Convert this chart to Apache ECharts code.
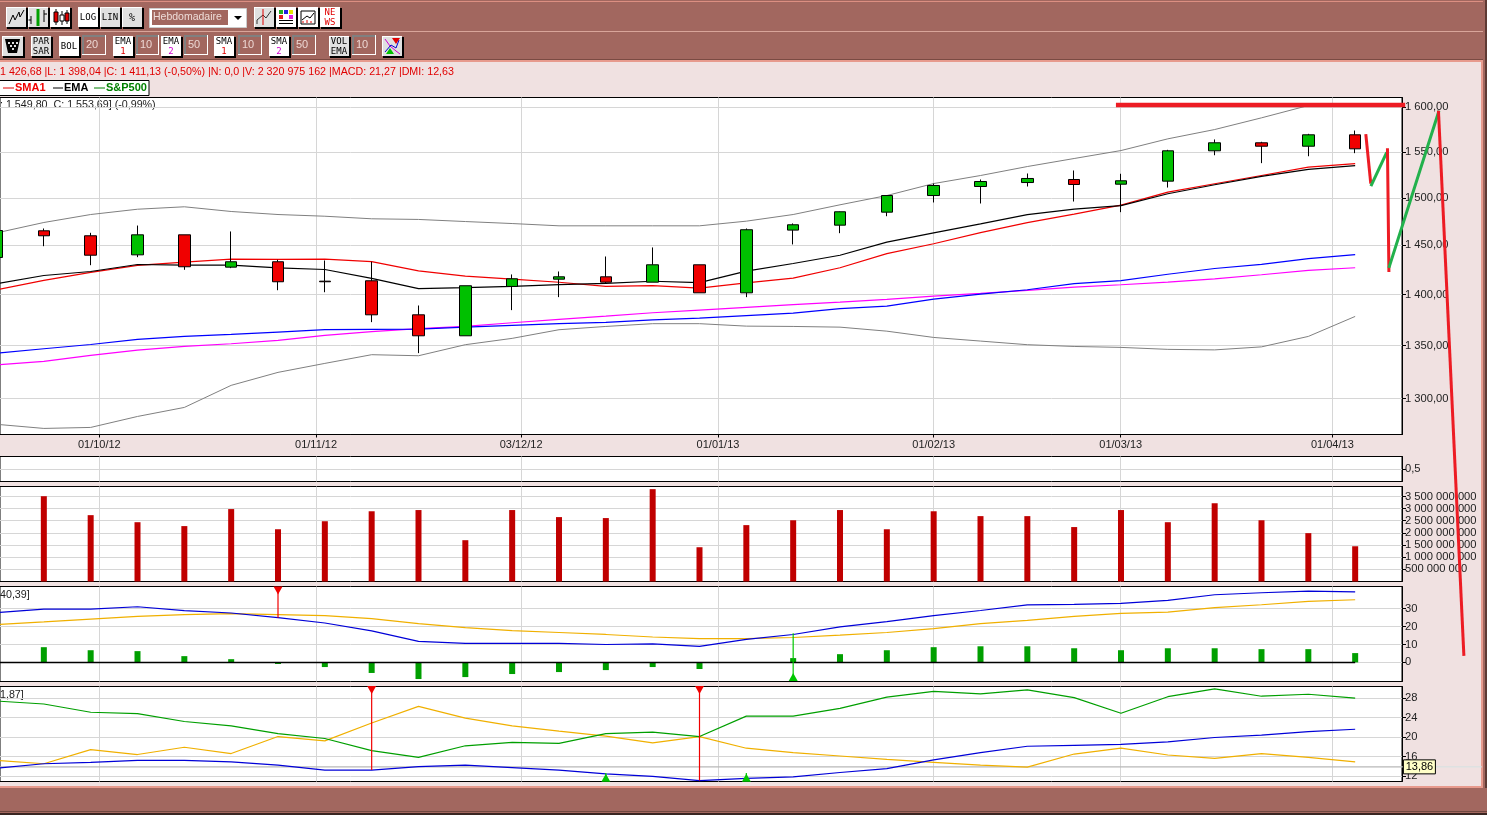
<!DOCTYPE html>
<html>
<head>
<meta charset="utf-8">
<style>html,body{margin:0;padding:0;background:#f0e1e1;overflow:hidden}#c{width:1487px;height:815px}</style>
<script src="https://cdn.jsdelivr.net/npm/echarts@6/dist/echarts.min.js"></script>
</head>
<body>
<div id="c"></div>
<script>
// ---- x axis tick labels and the fractional week position of each
const dateLabels = ['01/10/12','01/11/12','03/12/12','01/01/13','01/02/13','01/03/13','01/04/13'];
const dateTicks = [2.185,6.813,11.191,15.395,20,23.994,28.513];
// ---- weekly candles
const opens  = [1437.5,1465.1,1459.9,1440.2,1460.9,1427.6,1433.1,1413.4,1413.8,1379.9,1359.4,1408.1,1415.4,1417.8,1412.4,1430,1401.7,1465.8,1471,1484.7,1502.4,1512.1,1516.4,1519.7,1514.6,1517.9,1551.1,1560,1556.2,1568.9];
const closes = [1465.4,1459.9,1439.8,1460.9,1428,1433.1,1412.8,1412.8,1379.9,1359.4,1408.8,1415.8,1417.8,1412.4,1430,1401.7,1466.2,1471.4,1485.1,1502.4,1513.2,1517.5,1520.8,1514.3,1518.3,1551.1,1560,1556.2,1568.9,1553.3];
const lows   = [1437.5,1449.1,1429.6,1437.8,1424.9,1426.6,1404.3,1402.3,1372.7,1342.7,1359.4,1384.5,1397.4,1410.8,1412.4,1401.7,1397.4,1450.9,1462.6,1480.4,1495,1493.9,1512.1,1496,1484.7,1511,1546.2,1537.5,1545.1,1548.5];
const highs  = [1465.4,1467.5,1463,1470.6,1460.9,1464.4,1435.1,1434.4,1433.1,1389.1,1408.8,1420.2,1423.2,1438.5,1447.8,1430,1467.5,1472.8,1485.4,1502.4,1515.3,1519.7,1526.2,1529.5,1525.9,1552.2,1563.7,1561.1,1570,1573.7];
// ---- moving averages and Bollinger bands
const sma1 = [1404.8,1414.2,1422.3,1429.4,1432.7,1435.8,1435.5,1435.8,1433.2,1423.8,1418.4,1415.4,1412.3,1408.2,1409,1406.5,1411.6,1416.4,1427,1441.5,1451.6,1463.2,1473.6,1482.6,1492.2,1506,1515.1,1524,1533.1,1536.9];
const ema1 = [1410.9,1419.1,1423.2,1430.3,1429.6,1429.6,1426.9,1425.2,1416.2,1405.9,1406.9,1408.2,1409.9,1411.2,1413.3,1412,1423.5,1431.3,1439.8,1453.3,1462.9,1472.3,1482,1488,1491.6,1504.3,1514,1523,1530.7,1534.8];
const ema2 = [1342.7,1346.9,1351,1355.9,1358.8,1360.7,1363,1365.3,1365.6,1365.9,1367.8,1369.5,1371.2,1372.4,1375,1376.6,1379,1381.6,1385.9,1388.5,1395.4,1400.4,1404.8,1410.9,1414,1420.4,1426.2,1430.4,1436.3,1440.4];
const sma2 = [1331.5,1334.8,1340.6,1345.6,1349.1,1351.7,1354.9,1359.8,1363.4,1366.3,1368.5,1372.1,1375.4,1378.6,1381.9,1384.5,1387.2,1389.9,1392.4,1395.1,1398.4,1401.1,1404.1,1407.4,1409.8,1412.4,1415.8,1419.9,1424.3,1427];
const bollUp = [1463,1473.8,1482.2,1487.8,1490.4,1485.4,1482.2,1480.4,1477.7,1477,1474.8,1472.7,1470.3,1470.3,1470.3,1470.3,1475.2,1482.2,1492.5,1502.4,1515.3,1524,1533.8,1542.6,1551.4,1564.4,1574.8,1588,1602,1603.2];
const bollLow = [1276.2,1272.5,1273.4,1283.4,1291.7,1312.2,1324.4,1332.9,1341.2,1340.2,1350.8,1356.9,1365.3,1368.5,1371.2,1371.2,1368.8,1368.5,1367.8,1363.9,1357.8,1354.3,1350.8,1349.1,1348.2,1346.3,1345.8,1348.7,1358.8,1378.3];
// ---- hand-drawn annotations, in week position and price
const annoBar = [[23.94,1602.6],[30.02,1602.6]];
const annoRedA = [[29.23,1568.1],[29.33,1516.8]];
const annoGreenA = [[29.35,1514],[29.66,1547.8]];
const annoRedB = [[29.69,1552.2],[29.72,1424.2]];
const annoGreenB = [[29.73,1428.3],[30.78,1594.4]];
const annoRedC = [[30.78,1594.4],[31.32,1083.1]];
// ---- volume
const volumes = [2.4e9,3.51e9,2.73e9,2.44e9,2.28e9,2.98e9,2.15e9,2.48e9,2.89e9,2.94e9,1.7e9,2.94e9,2.65e9,2.61e9,3.8e9,1.41e9,2.32e9,2.52e9,2.94e9,2.15e9,2.89e9,2.69e9,2.69e9,2.24e9,2.94e9,2.44e9,3.22e9,2.52e9,1.99e9,1.45e9];
// ---- MACD
const macdLine = [27.8,29.8,29.8,31.1,28.9,27.6,25,22,17.6,11.7,10.6,10.6,10.6,10,10.3,8.9,12.9,15.6,19.8,22.8,26.1,29,32.1,32.4,33,34.6,37.8,38.9,39.8,39.4];
const macdSignal = [21.1,22.6,24.2,25.7,26.7,27.2,26.7,26.1,24.4,21.7,19.4,17.8,16.7,15.6,14.2,13.3,13.3,13.9,15.2,16.7,18.9,21.7,23.5,25.7,27.4,28.1,30.6,32.2,34.1,35];
const macdHist = [8,8.5,6.8,6.3,3.5,1.8,-0.9,-2.6,-5.9,-9.3,-8.2,-6.5,-5.4,-4.3,-2.6,-3.7,0,2.4,4.6,6.8,8.5,9,9,7.9,6.8,7.9,7.9,7.4,7.4,5.2];
// ---- DMI
const dmiPlus = [27.4,26.8,25.1,24.8,23.2,22.3,20.7,19.7,17.2,15.8,18.2,18.9,18.7,20.7,21,20.1,24.3,24.3,25.9,28.2,29.4,28.9,29.7,28.1,24.9,28.3,29.9,28.4,28.8,28];
const dmiMinus = [15.2,14.5,17.4,16.4,17.9,16.6,20.1,19.2,22.9,26.3,23.9,22.3,21.2,20.2,18.8,20.1,17.7,16.8,16.1,15.4,14.8,14.2,13.8,16.5,17.7,16.3,15.6,16.6,15.8,14.9];
const adx = [13.6,14.5,14.8,15.2,15.2,14.9,14.2,13.2,13.2,13.9,14.2,13.7,13.2,12.4,11.9,11.05,11.5,11.8,12.7,13.5,15.3,16.8,18.1,18.3,18.5,19,19.9,20.4,21.1,21.6];
const cursorValue = 13.86;
// ---- trade signals: [week, marker value, line end value]
const macdSell = [[6,40.2,25]];
const macdBuy = [[17,-8.2,16.3]];
const dmiSell = [[8,29.7,13.2],[15,29.7,11.05]];
const dmiBuy = [[13,11.6,12.6],[16,11.6,12.6]];
// ---- axis ticks
const priceTicks = [1300,1350,1400,1450,1500,1550,1600];
const emptyTicks = [0.5];
const volumeTicks = [5e8,1e9,1.5e9,2e9,2.5e9,3e9,3.5e9];
const macdTicks = [0,10,20,30];
const dmiTicks = [12,16,20,24,28];

const weeks = opens.map((_, i) => i);
const pairs = arr => arr.map((v, i) => [weeks[i], v]);
const FONT = '"Liberation Sans", Arial, sans-serif';
const MONO = '"DejaVu Sans Mono", monospace';
const GRID_LINE = '#d6d6d6';

function spaced(n, dec) {
  const s = dec ? n.toFixed(dec) : String(Math.round(n));
  const p = s.split('.');
  p[0] = p[0].replace(/\B(?=(\d{3})+$)/g, ' ');
  return p.join(',');
}
const xRange = {min: 0.064, max: 30};

function makeX(i, withLabels) {
  return {
    type: 'value', gridIndex: i, min: xRange.min, max: xRange.max,
    axisLine: {show: withLabels, lineStyle: {color: '#000'}},
    axisTick: {show: withLabels, length: 3, customValues: dateTicks, lineStyle: {color: '#000'}},
    axisLabel: {
      show: withLabels, customValues: dateTicks, margin: 5, color: '#222', fontFamily: FONT, fontSize: 11,
      formatter: v => { const k = dateTicks.findIndex(t => Math.abs(t - v) < 1e-6); return k < 0 ? '' : dateLabels[k]; }
    },
    splitLine: {show: true, lineStyle: {color: GRID_LINE, width: 1}}
  };
}
function makeY(i, min, max, ticks, fmt, type) {
  const o = {
    type: type || 'value', gridIndex: i, position: 'right', min, max, scale: false,
    axisLine: {show: true, lineStyle: {color: '#000'}},
    axisTick: {show: true, length: 4, customValues: ticks, lineStyle: {color: '#000'}},
    axisLabel: {customValues: ticks, margin: 3, color: '#222', fontFamily: FONT, fontSize: 11.2, formatter: fmt},
    splitLine: {show: true, lineStyle: {color: GRID_LINE, width: 1}}
  };
  if (type === 'log') o.logBase = 10;
  return o;
}
const frame = {show: true, backgroundColor: '#fff', borderColor: '#000', borderWidth: 1, left: -1, width: 1403};

function lineS(name, data, color, ax, extra) {
  return Object.assign({
    name, type: 'line', data, xAxisIndex: ax, yAxisIndex: ax, symbol: 'none', silent: true, z: 3,
    lineStyle: {color, width: 1.2}, itemStyle: {color}
  }, extra || {});
}
// custom series are not clipped by the grid, so these strokes can leave the plot as they do in the picture
function annot(name, data, color, width, ax) {
  return {
    name, type: 'custom', data, xAxisIndex: ax || 0, yAxisIndex: ax || 0, silent: true, z: 20,
    encode: {x: 0, y: 1},
    renderItem: (params, api) => params.dataIndex !== 0 ? null : {
      type: 'polyline',
      shape: {points: data.map(d => api.coord(d))},
      style: {stroke: color, lineWidth: width || 3, fill: null, lineCap: 'square'}
    }
  };
}
function signalS(name, triple, color, rotate, ax) {
  return lineS(name, [
    {value: [triple[0], triple[1]], symbol: 'triangle', symbolSize: [9, 8], symbolRotate: rotate},
    {value: [triple[0], triple[2]], symbol: 'none'}
  ], color, ax, {showSymbol: true, showAllSymbol: true, z: 9, lineStyle: {color, width: 1.2}});
}

const series = [
  lineS('Bollinger haut', pairs(bollUp), '#808080', 0, {lineStyle: {color: '#808080', width: 1}}),
  lineS('Bollinger bas', pairs(bollLow), '#808080', 0, {lineStyle: {color: '#808080', width: 1}}),
  lineS('SMA2', pairs(sma2), '#ff00ff', 0),
  lineS('EMA2', pairs(ema2), '#0000ff', 0),
  lineS('SMA1', pairs(sma1), '#f00000', 0),
  lineS('EMA', pairs(ema1), '#000000', 0),
  {
    name: 'S&P500', type: 'candlestick', xAxisIndex: 0, yAxisIndex: 0, barWidth: 12, z: 5, silent: true,
    data: weeks.map(i => [i, opens[i], closes[i], lows[i], highs[i]]),
    itemStyle: {color: '#00c000', color0: '#f00000', borderColor: '#000', borderColor0: '#000', borderWidth: 1}
  },
  annot('trait', annoBar, '#ed1c24', 4.5),
  annot('rouge A', annoRedA, '#ed1c24'),
  annot('vert A', annoGreenA, '#22b14c'),
  annot('rouge B', annoRedB, '#ed1c24'),
  annot('vert B', annoGreenB, '#22b14c'),
  annot('rouge C', annoRedC, '#ed1c24'),
  {name: 'Volume', type: 'bar', xAxisIndex: 2, yAxisIndex: 2, barWidth: 6, silent: true, data: pairs(volumes), itemStyle: {color: '#c00000'}},
  {name: 'MACD histo', type: 'bar', xAxisIndex: 3, yAxisIndex: 3, barWidth: 6, silent: true, data: pairs(macdHist), itemStyle: {color: '#009f00'}},
  lineS('zero', [[xRange.min, 0], [weeks[weeks.length - 1], 0]], '#000', 3, {lineStyle: {color: '#000', width: 1.5}, z: 4}),
  lineS('MACD signal', pairs(macdSignal), '#f0b000', 3),
  lineS('MACD', pairs(macdLine), '#0000d8', 3),
  lineS('curseur', [[xRange.min, cursorValue], [xRange.max, cursorValue]], '#b8b8b8', 4),
  annot('curseur ext', [[xRange.max, cursorValue], [31.7, cursorValue]], '#d4e2e2', 1, 4),
  lineS('DI-', pairs(dmiMinus), '#f0b000', 4),
  lineS('DI+', pairs(dmiPlus), '#009f00', 4),
  lineS('ADX', pairs(adx), '#0000d8', 4),
  {
    name: 'valeur', type: 'custom', xAxisIndex: 4, yAxisIndex: 4, silent: true, z: 30,
    data: [[xRange.max + 0.03, cursorValue]], encode: {x: 0, y: 1},
    renderItem: (params, api) => {
      const p = api.coord([api.value(0), api.value(1)]);
      return {type: 'group', children: [
        {type: 'rect', shape: {x: p[0], y: p[1] - 7, width: 32, height: 14}, style: {fill: '#ffffc8', stroke: '#000', lineWidth: 1}},
        {type: 'text', x: p[0] + 16, y: p[1], style: {text: spaced(api.value(1), 2), fill: '#000', font: '11px ' + FONT, textAlign: 'center', textVerticalAlign: 'middle'}}
      ]};
    }
  }
];
macdSell.forEach((s, k) => series.push(signalS('vente ' + k, s, '#f00000', 180, 3)));
macdBuy.forEach((s, k) => series.push(signalS('achat ' + k, s, '#00c800', 0, 3)));
dmiSell.forEach((s, k) => series.push(signalS('vente DMI ' + k, s, '#f00000', 180, 4)));
dmiBuy.forEach((s, k) => series.push(signalS('achat DMI ' + k, s, '#00c800', 0, 4)));

// ---- window chrome and toolbar, as decoration
const BROWN = '#a2675f', HI = '#dc8f82', DARK = '#5e3a34', PINK_EDGE = '#e79a8d';
const g = [];
const R = (x, y, w, h, fill, stroke) => g.push({type: 'rect', silent: true, shape: {x, y, width: w, height: h}, style: {fill, stroke: stroke || null, lineWidth: 1}});
const T = (x, y, text, fill, font, align) => g.push({type: 'text', silent: true, x, y, style: {text, fill, font, textAlign: align || 'left', textVerticalAlign: 'middle'}});
const P = (pts, stroke, w) => g.push({type: 'polyline', silent: true, shape: {points: pts}, style: {stroke, lineWidth: w || 1, fill: null}});

R(0, 0, 1487, 61, BROWN);
R(0, 1, 1483, 1, HI);
R(0, 31, 1483, 1, '#d9a59a');
R(0, 59, 1483, 1, '#7a4a42');
R(0, 60, 1483, 2, PINK_EDGE);
R(1481, 60, 2, 727, PINK_EDGE);
R(1483, 0, 4, 815, BROWN);
R(1485, 0, 2, 815, DARK);
R(0, 786, 1483, 2, PINK_EDGE);
R(0, 788, 1487, 25, BROWN);
R(0, 811, 1487, 1, '#6f4740');
R(0, 813, 1487, 2, '#3a2622');

function btn(x, y, w, h, fill) {
  R(x + 1, y + 1, w + 1, h + 1, '#000');
  R(x, y, w, h, '#fff');
  R(x + 1, y + 1, w - 1, h - 1, fill);
}
const GREY = '#e0e0e0', WHITE = '#fff';
function label(x, y, lines, w, fs) {
  lines.forEach((l, k) => T(x + w / 2, y + (lines.length === 1 ? 11 : 6 + k * 9.5), l[0], l[1] || '#000', (fs || 9) + 'px ' + MONO, 'center'));
}
function input(x, y, w, text) {
  R(x, y, w, 20, '#fff');
  R(x, y, w - 1, 19, '#808080');
  R(x + 2, y + 2, w - 3, 17, BROWN);
  T(x + 4, y + 10, text, '#ecd7d3', '11px ' + FONT);
}
// row 1
btn(6, 7, 20, 20, GREY); P([[9, 24], [13, 15], [15, 20], [19, 12], [20, 17], [24, 10]], '#000', 1);
btn(28, 7, 20, 20, GREY);
P([[31, 24], [31, 16]], '#000'); P([[28.5, 20], [31, 20]], '#000');
P([[38, 26], [38, 9]], '#00a000', 3); P([[44, 22], [44, 10]], '#000'); P([[44, 14], [47, 14]], '#000');
btn(50, 7, 20, 20, WHITE);
P([[56, 9], [56, 25]], '#000'); R(54, 12, 4, 10, '#e00000', '#000');
P([[62, 11], [62, 25]], '#000'); R(60, 15, 4, 6, '#fff', '#000');
P([[67, 10], [67, 24]], '#000'); R(65, 13, 4, 8, '#e00000', '#000');
btn(78, 7, 20, 20, WHITE); label(78, 7, [['LOG']], 20);
btn(100, 7, 20, 20, GREY); label(100, 7, [['LIN']], 20);
btn(122, 7, 20, 20, GREY); label(122, 7, [['%']], 20, 10);
R(149.5, 8.5, 97, 19, '#fff', '#ccc');
R(152, 10, 76, 15, BROWN);
T(153, 17.5, 'Hebdomadaire', '#eedcd8', '10.5px ' + FONT);
g.push({type: 'polygon', silent: true, shape: {points: [[234, 16], [242, 16], [238, 20]]}, style: {fill: '#000'}});
btn(254, 7, 20, 20, GREY);
P([[257, 24], [257, 20], [263, 15], [266, 18], [271, 11]], '#333'); P([[263, 9], [263, 25]], '#e00000');
btn(276, 7, 20, 20, WHITE);
R(279, 10, 4, 4, '#20b020'); R(284, 10, 4, 4, '#2020e0'); R(289, 10, 4, 4, '#e8e800'); R(279, 15, 4, 4, '#e02020'); R(289, 15, 4, 4, '#e020e0');
R(279, 20, 14, 1, '#000'); R(279, 23, 14, 1, '#000');
btn(298, 7, 20, 20, WHITE);
R(301, 11, 14, 13, '#fff', '#000'); P([[302, 20], [307, 16], [310, 18], [314, 13]], '#000'); P([[303, 23], [303, 21]], '#e00000'); P([[307, 23], [307, 20]], '#e00000'); P([[311, 23], [311, 21]], '#e00000');
btn(320, 7, 20, 20, WHITE);
label(320, 7, [['NE', '#e00000'], ['WS', '#e00000']], 20, 9);
// row 2
btn(2, 36, 21, 20, GREY);
g.push({type: 'polygon', silent: true, shape: {points: [[5, 39], [20, 39], [17, 53], [8, 53]]}, style: {fill: '#000'}});
[[8, 42], [12, 42], [16, 42], [10, 45], [14, 45], [12, 48]].forEach(d => R(d[0], d[1], 2, 2, '#ddd'));
btn(31, 36, 20, 20, GREY); label(31, 36, [['PAR'], ['SAR']], 20);
btn(59, 36, 20, 20, WHITE); label(59, 36, [['BOL']], 20);
input(82, 35, 24, '20');
btn(113, 36, 20, 20, WHITE); label(113, 36, [['EMA'], ['1', '#e00000']], 20);
input(136, 35, 23, '10');
btn(161, 36, 20, 20, WHITE); label(161, 36, [['EMA'], ['2', '#d000d0']], 20);
input(184, 35, 24, '50');
btn(214, 36, 20, 20, WHITE); label(214, 36, [['SMA'], ['1', '#e00000']], 20);
input(238, 35, 24, '10');
btn(269, 36, 20, 20, WHITE); label(269, 36, [['SMA'], ['2', '#d000d0']], 20);
input(292, 35, 24, '50');
btn(329, 36, 20, 20, GREY); label(329, 36, [['VOL'], ['EMA']], 20);
input(352, 35, 24, '10');
btn(382, 36, 20, 20, GREY);
P([[385, 39], [390, 46], [396, 51], [400, 54]], '#d000d0'); P([[385, 52], [391, 45], [396, 48], [399, 40]], '#0000d0');
g.push({type: 'polygon', silent: true, shape: {points: [[392, 38], [400, 38], [396, 44]]}, style: {fill: '#e00000'}});
g.push({type: 'polygon', silent: true, shape: {points: [[386, 54], [394, 54], [390, 48]]}, style: {fill: '#00c000'}});
// info line and legend
T(0, 72.5, '1 426,68 |L: 1 398,04 |C: 1 411,13 (-0,50%) |N: 0,0 |V: 2 320 975 162 |MACD: 21,27 |DMI: 12,63', '#e00000', '10.7px ' + FONT);
R(-1, 80.5, 150, 15, '#fff', '#000');
P([[3, 88], [14, 88]], '#e00000'); T(15, 88, 'SMA1', '#f00000', 'bold 11px ' + FONT);
P([[53, 88], [63, 88]], '#000'); T(64, 88, 'EMA', '#000', 'bold 11px ' + FONT);
P([[94, 88], [105, 88]], '#008000'); T(106, 88, 'S&P500', '#008000', 'bold 11px ' + FONT);
T(0, 105.5, ': 1 549,80  C: 1 553,69] (-0,99%)', '#222', '10.7px ' + FONT);
T(0, 595, '40,39]', '#222', '10.7px ' + FONT);
T(0, 695, '1,87]', '#222', '10.7px ' + FONT);

const chart = echarts.init(document.getElementById('c'), null, {renderer: 'canvas'});
chart.setOption({
  animation: false,
  backgroundColor: '#f0e1e1',
  grid: [
    Object.assign({top: 97.5, height: 337}, frame),
    Object.assign({top: 456.5, height: 25}, frame),
    Object.assign({top: 486.5, height: 95}, frame),
    Object.assign({top: 586.5, height: 95}, frame),
    Object.assign({top: 686.5, height: 95}, frame)
  ],
  xAxis: [makeX(0, true), makeX(1), makeX(2), makeX(3), makeX(4)],
  yAxis: [
    makeY(0, 1267, 1611.2, priceTicks, v => spaced(v, 2), 'log'),
    makeY(1, 0, 1, emptyTicks, v => spaced(v, 1)),
    makeY(2, 0, 3.909e9, volumeTicks, v => spaced(v)),
    makeY(3, -10.67, 42.4, macdTicks, v => String(v)),
    makeY(4, 10.85, 30.4, dmiTicks, v => String(v))
  ],
  series,
  graphic: {elements: g}
});
</script>
</body>
</html>
